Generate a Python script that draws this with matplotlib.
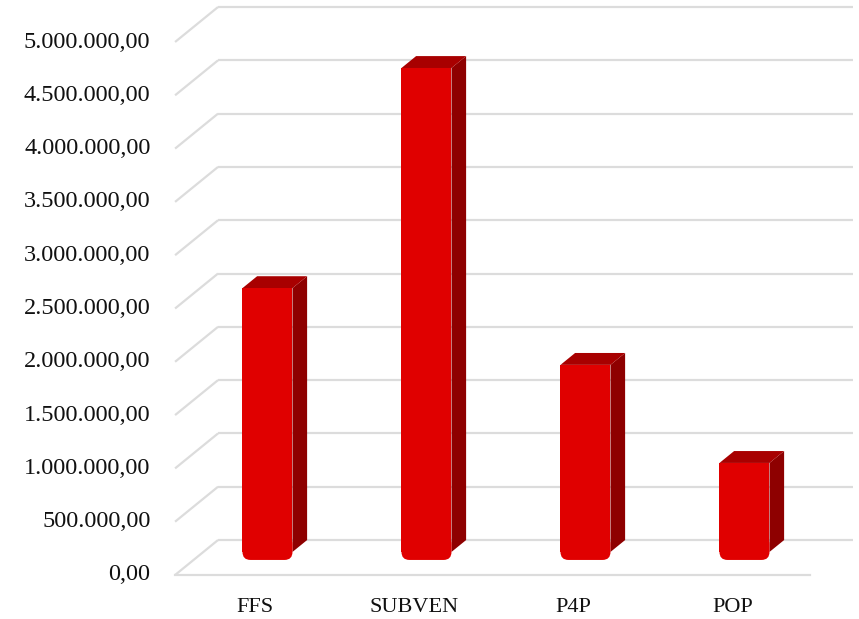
import matplotlib.pyplot as plt
from matplotlib.patches import Polygon, FancyBboxPatch

# data
categories = ['FFS', 'SUBVEN', 'P4P', 'POP']
values = [2550000, 4615000, 1830000, 910000]
ticks = [0, 500000, 1000000, 1500000, 2000000, 2500000,
         3000000, 3500000, 4000000, 4500000, 5000000]


def fmt(v):
    s = f'{v:,.2f}'
    return s.replace(',', '#').replace('.', ',').replace('#', '.')


# layout (fake 3d, excel style)
W, H = 859, 619
px_x = 159.0                 # pixels per category
px_v = 5000000 / 533.0       # value per pixel
DX = 43 / px_x               # floor depth, x
DY = 35 * px_v               # floor depth, value
fb = 0.43                    # bar front depth fraction
bd = 0.34                    # bar depth fraction
bw = 50 / px_x               # bar width
floor_l, floor_r = -0.465, 3.528

grid_c = '#DCDCDC'
front_c = '#E00000'
side_c = '#8E0000'
top_c = '#A80000'

fig = plt.figure(figsize=(W / 100, H / 100), dpi=100)
ax = fig.add_axes([0, 0, 1, 1])
ax.set_xlim(-249 / px_x, (W - 249) / px_x)
ax.set_ylim(-44 * px_v, 5000000 + 42 * px_v)
ax.axis('off')

# gridlines: left wall diagonals + back wall
for t in ticks:
    ax.plot([floor_l, floor_l + DX], [t, t + DY], color=grid_c, lw=1.6,
            solid_capstyle='butt', zorder=1)
    ax.plot([floor_l + DX, floor_r + DX], [t + DY, t + DY], color=grid_c,
            lw=1.6, solid_capstyle='butt', zorder=1)
    ax.text(-0.62, t, fmt(t), ha='right', va='center', fontsize=17.5,
            family='Liberation Serif', color='#111111')
# front floor edge
ax.plot([floor_l, floor_r], [0, 0], color=grid_c, lw=1.6, zorder=1)

r = 8 / px_x
asp = px_v * px_x
for i, (c, v) in enumerate(zip(categories, values)):
    x0 = i + fb * DX - bw / 2
    x1 = x0 + bw
    y0 = fb * DY
    y1 = v + fb * DY
    dx, dy = bd * DX, bd * DY
    # side
    ax.add_patch(Polygon([(x1, y0 + 8 * px_v), (x1 + dx, y0 + dy + 8 * px_v),
                          (x1 + dx, y1 + dy), (x1, y1)],
                         closed=True, fc=side_c, ec='none', zorder=3))
    # top
    ax.add_patch(Polygon([(x0, y1), (x1, y1), (x1 + dx, y1 + dy),
                          (x0 + dx, y1 + dy)],
                         closed=True, fc=top_c, ec='none', zorder=3))
    # front (rounded bottom)
    ax.bar(x0 + bw / 2, y1 - (y0 + r * asp), width=bw, bottom=y0 + r * asp,
           color=front_c, zorder=4)
    ax.add_patch(FancyBboxPatch((x0, y0), bw, 3 * r * asp,
                                boxstyle=f'round,pad=0,rounding_size={r}',
                                mutation_aspect=asp, fc=front_c, ec='none',
                                zorder=4))
    ax.text(i + 0.04, -33 * px_v, c, ha='center', va='center', fontsize=16,
            family='Liberation Serif', color='#111111')

plt.savefig('out.png', dpi=100)
